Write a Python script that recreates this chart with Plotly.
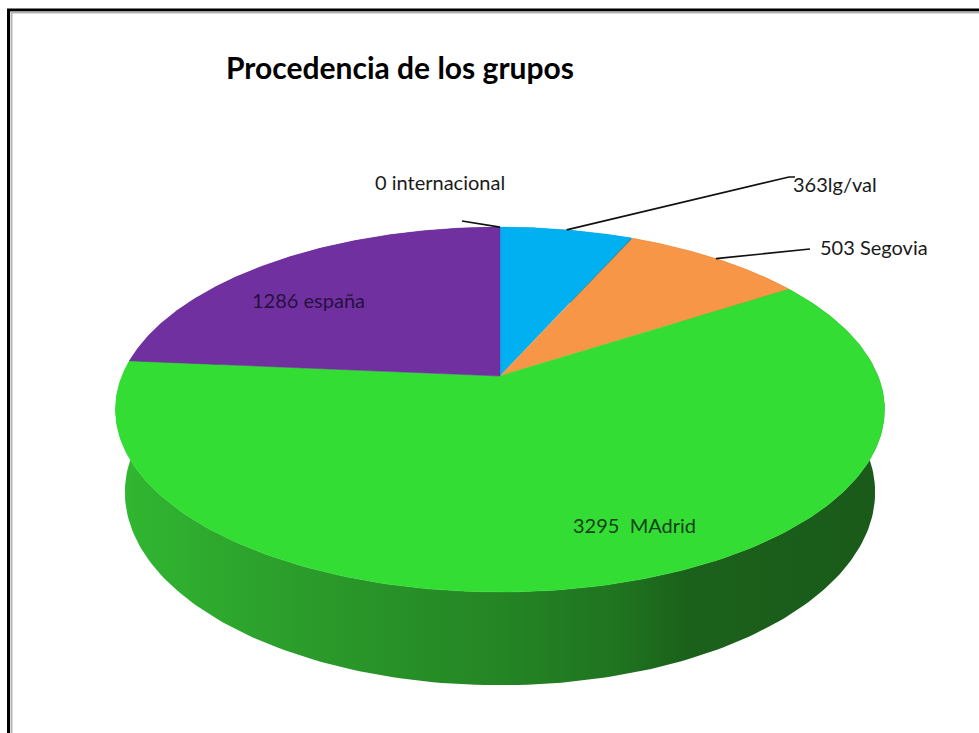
import numpy as np
import plotly.graph_objects as go

# ---------------- data ----------------
categories = ["lg/val", "Segovia", "MAdrid", "españa", "internacional"]
values = [363, 503, 3295, 1286, 0]
label_texts = ["363lg/val", "503 Segovia", "3295  MAdrid", "1286 españa", "0 internacional"]
title_text = "Procedencia de los grupos"

# ---------------- styling ----------------
top_colors = ["#00b0f0", "#f79646", "#33dd33", "#7030a0", "#c0504d"]
wall_scales = [
    [[0, "#0088bb"], [1, "#005f85"]],
    [[0, "#c87430"], [1, "#8a4f20"]],
    [[0, "#31b831"], [0.24, "#2b9c2b"], [0.5, "#248524"], [0.66, "#1f7320"],
     [0.74, "#1b611b"], [1, "#1a5a1a"]],
    [[0, "#56237d"], [1, "#3b1756"]],
    [[0, "#9a3c3a"], [1, "#6e2a29"]],
]
# label placement (pixels) : (text x, text y, leader end x, leader end y, kind)
label_pos = [
    (835, 184, 789, 177, "out"),
    (874, 247, 804, 249, "out"),
    (634, 525, None, None, "in"),
    (308, 300, None, None, "in"),
    (440, 182, 462, 221, "out0"),
]
label_colors = ["#1a1a1a", "#1a1a1a", "#15401a", "#261040", "#1a1a1a"]

# perspective "camera" for the 3-D look
W, H = 979, 733
ELEV = np.radians(27.8)
DIST = 4.81
SCALE = 1818.0
CX, CY = 500.0, 376.0
DEPTH = 0.25


def project(phi, r=1.0, z=0.0):
    phi = np.asarray(phi, dtype=float)
    x = r * np.sin(phi)
    y = r * np.cos(phi)
    c, s = np.cos(ELEV), np.sin(ELEV)
    den = DIST + y * c - z * s
    sx = x / den
    sy = (y * s + z * c) / den
    return CX + SCALE * sx, CY - SCALE * sy


total = float(sum(values))
cum = np.concatenate([[0.0], np.cumsum(values)]) / total * 2 * np.pi

fig = go.Figure()

# side walls (drawn first, tops cover the hidden parts)
for i, v in enumerate(values):
    a0, a1 = cum[i], cum[i + 1]
    if a1 - a0 <= 0:
        continue
    ang = np.linspace(a0, a1, 200)
    tx, ty = project(ang, 1.0, 0.0)
    bx, by = project(ang[::-1], 1.0, -DEPTH)
    xs = np.concatenate([tx, bx, tx[:1]])
    ys = np.concatenate([ty, by, ty[:1]])
    fig.add_trace(go.Scatter(
        x=xs, y=ys, mode="lines", fill="toself",
        line=dict(width=0, color=top_colors[i]),
        fillgradient=dict(type="horizontal", colorscale=wall_scales[i]),
        hoverinfo="skip", showlegend=False))

# top faces
for i, v in enumerate(values):
    a0, a1 = cum[i], cum[i + 1]
    if a1 - a0 <= 0:
        continue
    ang = np.linspace(a0, a1, 200)
    rx, ry = project(ang, 1.0, 0.0)
    ox, oy = project(0.0, 0.0, 0.0)
    xs = np.concatenate([[ox], rx, [ox]])
    ys = np.concatenate([[oy], ry, [oy]])
    fig.add_trace(go.Scatter(
        x=xs, y=ys, mode="lines", fill="toself",
        fillcolor=top_colors[i], line=dict(width=0.5, color=top_colors[i]),
        name=categories[i], hoverinfo="name", showlegend=False))

# leader lines + labels
for i, v in enumerate(values):
    tx, ty, ex, ey, kind = label_pos[i]
    mid = (cum[i] + cum[i + 1]) / 2
    if kind in ("out", "out0"):
        px, py = project(mid, 1.0, 0.0)
        lx = [float(px), ex]
        ly = [float(py), ey]
        if kind == "out":
            lx.append(ex + 6)
            ly.append(ey)
        fig.add_trace(go.Scatter(x=lx, y=ly, mode="lines",
                                 line=dict(color="#111111", width=1.6),
                                 hoverinfo="skip", showlegend=False))
    fig.add_annotation(x=tx, y=ty, text=label_texts[i], showarrow=False,
                       xref="x", yref="y", xanchor="center", yanchor="middle",
                       font=dict(family="Lato, Carlito, Arial", size=20,
                                 color=label_colors[i]))

# chart frame (cut off at right / bottom like the reference)
fig.add_shape(type="rect", xref="x", yref="y", x0=8.5, y0=10, x1=1100, y1=900,
              line=dict(color="#000000", width=3), layer="above")
fig.add_shape(type="rect", xref="x", yref="y", x0=11.5, y0=12.5, x1=1100, y1=900,
              line=dict(color="#b4b4b4", width=2), layer="above")

fig.update_layout(
    width=W, height=H,
    margin=dict(l=0, r=0, t=0, b=0),
    paper_bgcolor="white", plot_bgcolor="white",
    xaxis=dict(range=[0, W], visible=False, fixedrange=True),
    yaxis=dict(range=[H, 0], visible=False, fixedrange=True),
    title=dict(text=title_text, x=400 / W, xanchor="center",
               y=1 - 68 / H, yanchor="middle",
               font=dict(family="Lato, Carlito, Arial", size=30, color="#000000",
                         weight="bold")),
    showlegend=False,
)

fig.write_html("out.html",
               config={"displayModeBar": False},
               post_script="document.body.style.margin='0';document.body.style.overflow='hidden';")
